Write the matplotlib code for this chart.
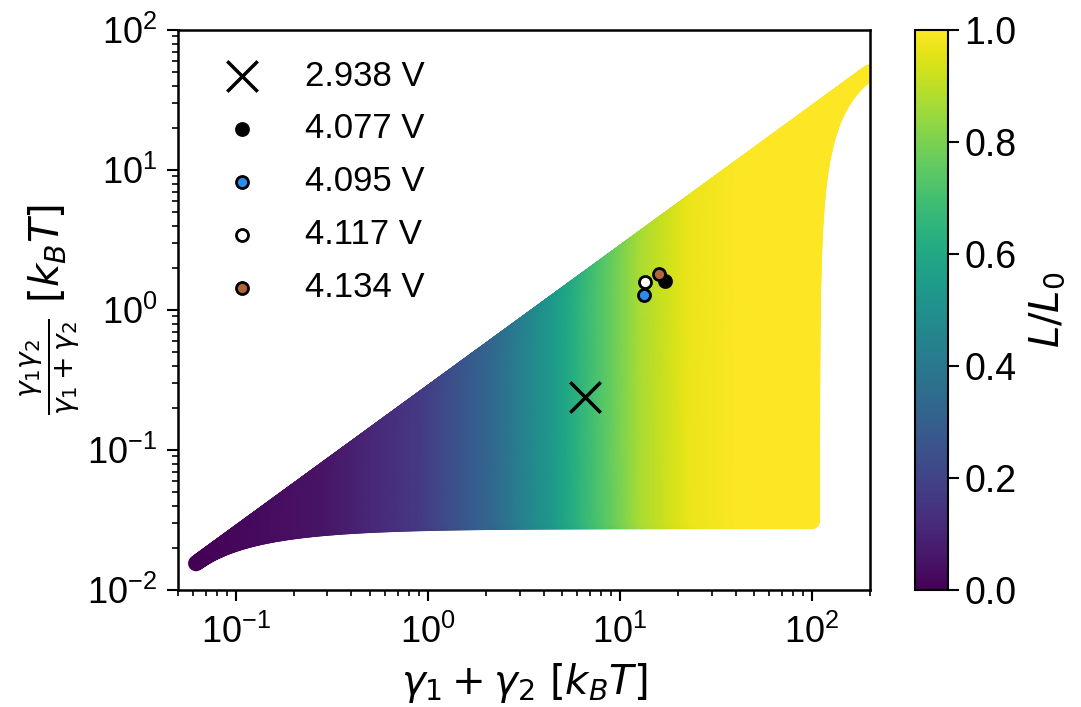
import matplotlib
matplotlib.use("Agg")
import matplotlib.pyplot as plt
import numpy as np
from matplotlib.ticker import FuncFormatter, LogLocator, NullFormatter

plt.rcParams["font.family"] = ["Liberation Sans", "DejaVu Sans"]
plt.rcParams["mathtext.fontset"] = "dejavusans"

# parameter range of the (gamma1, gamma2) map, in k_B T
GAMMA_MIN = 0.031
GAMMA_MAX = 100.0
SUM_ANCHORS = [0.06, 0.3, 1.0, 2.3, 4.7, 6.7, 13.8, 25.0, 50.0, 200.0]
LL0_ANCHORS = [0.0, 0.05, 0.17, 0.33, 0.53, 0.65, 0.87, 0.97, 1.0, 1.0]

# fitted points per voltage
VOLT_LABELS = ["2.938 V", "4.077 V", "4.095 V", "4.117 V", "4.134 V"]
VOLT_SUM = [6.6, 17.1, 13.3, 13.5, 15.9]
VOLT_HARM = [0.24, 1.61, 1.28, 1.58, 1.81]
VOLT_COLORS = ["black", "black", "#2b8cf0", "white", "#b0653c"]

g = np.logspace(np.log10(GAMMA_MIN), np.log10(GAMMA_MAX), 320)
g1, g2 = np.meshgrid(g, g)
keep = g1 <= g2
g1 = g1[keep]
g2 = g2[keep]
gsum = g1 + g2
gharm = g1 * g2 / gsum
ll0 = np.interp(np.log10(gsum), np.log10(SUM_ANCHORS), LL0_ANCHORS)

fig = plt.figure(figsize=(10.81, 7.07), dpi=100)
ax = fig.add_axes([0.1647, 0.1655, 0.640, 0.792])
cax = fig.add_axes([0.8465, 0.1655, 0.0305, 0.792])

field = ax.scatter(gsum, gharm, c=ll0, cmap="viridis", vmin=0, vmax=1,
                   s=130, edgecolors="none", zorder=1)

ax.scatter(VOLT_SUM[0], VOLT_HARM[0], marker="x", s=480, c="black",
           linewidths=2.5, label=VOLT_LABELS[0], zorder=3)
for i in range(1, len(VOLT_LABELS)):
    ax.scatter(VOLT_SUM[i], VOLT_HARM[i], marker="o", s=75, c=VOLT_COLORS[i],
               edgecolors="black", linewidths=2, label=VOLT_LABELS[i], zorder=3)

ax.set_xscale("log")
ax.set_yscale("log")
ax.set_xlim(0.05, 200)
ax.set_ylim(0.01, 100)

sci = FuncFormatter(lambda v, p: r"$\mathregular{10^{%d}}$" % round(np.log10(v)))
for axis in (ax.xaxis, ax.yaxis):
    axis.set_major_locator(LogLocator(base=10, numticks=10))
    axis.set_minor_locator(LogLocator(base=10, subs=np.arange(2, 10), numticks=10))
    axis.set_major_formatter(sci)
    axis.set_minor_formatter(NullFormatter())

ax.tick_params(which="major", labelsize=26, length=8, width=1.5, pad=7)
ax.tick_params(axis="x", which="major", pad=10)
ax.tick_params(which="minor", length=4.5, width=1.2)
for spine in ax.spines.values():
    spine.set_linewidth(1.8)

ax.set_xlabel(r"$\gamma_1 + \gamma_2\ [k_BT]$", fontsize=29, labelpad=7)
ax.set_ylabel(r"$\frac{\gamma_1\gamma_2}{\gamma_1+\gamma_2}\ [k_BT]$", fontsize=29, labelpad=4)

leg = ax.legend(loc="upper left", frameon=False, fontsize=25, labelspacing=0.57,
                handletextpad=0.8, borderaxespad=0.4, borderpad=0.45, scatterpoints=1)

cbar = fig.colorbar(field, cax=cax)
cbar.set_ticks([0, 0.2, 0.4, 0.6, 0.8, 1.0])
cbar.ax.tick_params(labelsize=27, length=8, width=1.5)
cbar.outline.set_linewidth(1.5)
cbar.set_label(r"$L/L_0$", fontsize=29, labelpad=8)

fig.savefig("out.png", dpi=100)
